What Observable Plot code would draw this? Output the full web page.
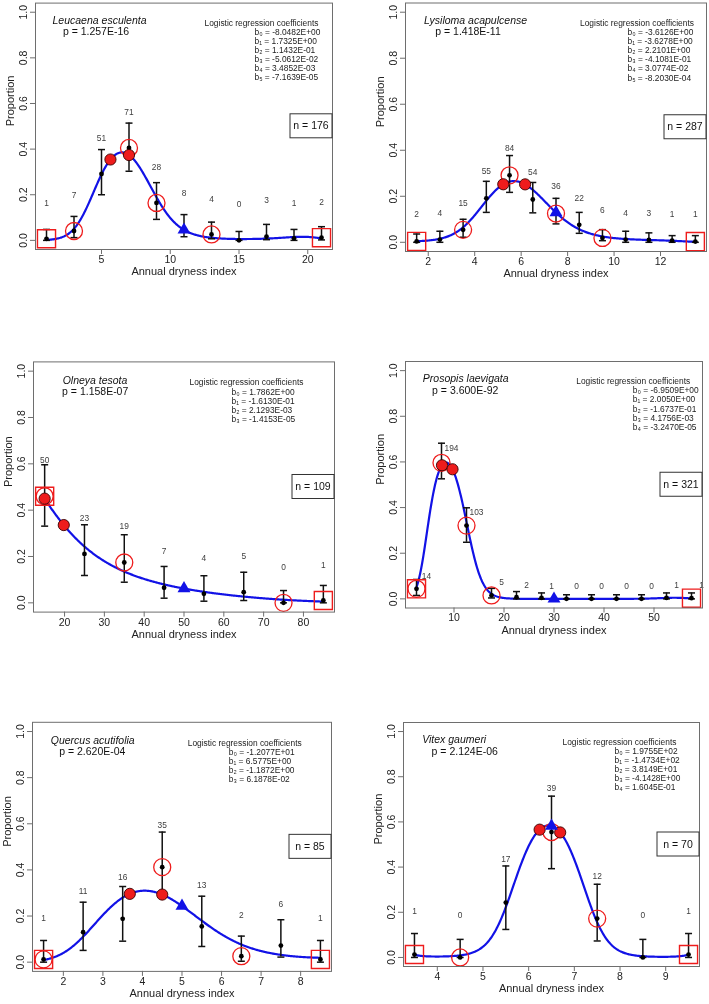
<!DOCTYPE html>
<html>
<head>
<meta charset="utf-8">
<script src="https://cdn.jsdelivr.net/npm/d3@7"></script>
<script src="https://cdn.jsdelivr.net/npm/@observablehq/plot@0.6"></script>
<style>
  body { margin: 0; background: #fff; }
  #page { position: relative; width: 709px; height: 1004px; overflow: hidden; background: #fff;
          font-family: "Liberation Sans", Arial, sans-serif; }
  #page svg { position: absolute; will-change: transform; }
</style>
</head>
<body>
<div id="page"></div>
<script>
// ---------- Leucaena esculenta ----------
const leucaenaX      = [1, 3, 5, 7, 9, 11, 13, 15, 17, 19, 21];
const leucaenaProp   = [0.007, 0.041, 0.291, 0.405, 0.164, 0.051, 0.026, 0.0, 0.016, 0.009, 0.012];
const leucaenaLow    = [0.0, 0.012, 0.20, 0.303, 0.092, 0.016, 0.007, 0.0, 0.003, 0.0, 0.002];
const leucaenaHigh   = [0.048, 0.105, 0.398, 0.514, 0.253, 0.113, 0.080, 0.039, 0.070, 0.048, 0.060];
const leucaenaCount  = [1, 7, 51, 71, 28, 8, 4, 0, 3, 1, 2];
const leucaenaCoef   = [-8.0482E+00, 1.7325E+00, 1.1432E-01, -5.0612E-02, 3.4852E-03, -7.1639E-05];
const leucaenaOptimum = [5.65, 7.0];
const leucaenaCircled = [3, 7, 9, 13];
const leucaenaBoxed   = [1, 21];
const leucaenaMarker  = 11;

// ---------- Lysiloma acapulcense ----------
const lysilomaX      = [1.5, 2.5, 3.5, 4.5, 5.5, 6.5, 7.5, 8.5, 9.5, 10.5, 11.5, 12.5, 13.5];
const lysilomaProp   = [0.004, 0.012, 0.054, 0.191, 0.291, 0.186, 0.125, 0.076, 0.019, 0.012, 0.010, 0.007, 0.003];
const lysilomaLow    = [0.0, 0.0, 0.022, 0.13, 0.217, 0.128, 0.08, 0.039, 0.007, 0.0, 0.0, 0.0, 0.0];
const lysilomaHigh   = [0.036, 0.048, 0.10, 0.265, 0.377, 0.26, 0.191, 0.13, 0.055, 0.048, 0.041, 0.029, 0.029];
const lysilomaCount  = [2, 4, 15, 55, 84, 54, 36, 22, 6, 4, 3, 1, 1];
const lysilomaCoef   = [-3.6126E+00, -3.6278E+00, 2.2101E+00, -4.1081E-01, 3.0774E-02, -8.2030E-04];
const lysilomaOptimum = [5.23, 6.17];
const lysilomaCircled = [3.5, 5.5, 7.5, 9.5];
const lysilomaBoxed   = [1.5, 13.5];
const lysilomaMarker  = 7.5;

// ---------- Olneya tesota ----------
const olneyaX      = [15, 25, 35, 45, 55, 65, 75, 85];
const olneyaProp   = [0.46, 0.211, 0.174, 0.065, 0.039, 0.046, 0.0, 0.010];
const olneyaLow    = [0.331, 0.118, 0.089, 0.02, 0.007, 0.01, 0.0, 0.0];
const olneyaHigh   = [0.596, 0.337, 0.294, 0.157, 0.117, 0.132, 0.053, 0.075];
const olneyaCount  = [50, 23, 19, 7, 4, 5, 0, 1];
const olneyaCoef   = [1.7862E+00, -1.6130E-01, 2.1293E-03, -1.4153E-05];
const olneyaOptimum = [15, 19.8];
const olneyaCircled = [15, 35, 75];
const olneyaBoxed   = [15, 85];
const olneyaMarker  = 50;

// ---------- Prosopis laevigata ----------
const prosopisX      = [2.5, 7.5, 12.5, 17.5, 22.5, 27.5, 32.5, 37.5, 42.5, 47.5, 52.5, 57.5];
const prosopisProp   = [0.044, 0.596, 0.321, 0.015, 0.007, 0.004, 0.0, 0.0, 0.0, 0.0, 0.004, 0.003];
const prosopisLow    = [0.015, 0.526, 0.248, 0.004, 0.0, 0.0, 0.0, 0.0, 0.0, 0.0, 0.0, 0.0];
const prosopisHigh   = [0.085, 0.682, 0.399, 0.046, 0.032, 0.026, 0.018, 0.018, 0.018, 0.018, 0.026, 0.026];
const prosopisCount  = [14, 194, 103, 5, 2, 1, 0, 0, 0, 0, 1, 1];
const prosopisCoef   = [-6.9509E+00, 2.0050E+00, -1.6737E-01, 4.1756E-03, -3.2470E-05];
const prosopisOptimum = [7.6, 9.7];
const prosopisCircled = [2.5, 7.5, 12.5, 17.5];
const prosopisBoxed   = [2.5, 57.5];
const prosopisMarker  = 30;

// ---------- Quercus acutifolia ----------
const quercusX      = [1.5, 2.5, 3.5, 4.5, 5.5, 6.5, 7.5, 8.5];
const quercusProp   = [0.012, 0.13, 0.188, 0.412, 0.155, 0.026, 0.072, 0.012];
const quercusLow    = [0.0, 0.051, 0.091, 0.29, 0.068, 0.004, 0.022, 0.0];
const quercusHigh   = [0.094, 0.26, 0.328, 0.564, 0.286, 0.113, 0.184, 0.094];
const quercusCount  = [1, 11, 16, 35, 13, 2, 6, 1];
const quercusCoef   = [-1.2077E+01, 6.5775E+00, -1.1872E+00, 6.1878E-02];
const quercusOptimum = [3.68, 4.5];
const quercusCircled = [1.5, 4.5, 6.5];
const quercusBoxed   = [1.5, 8.5];
const quercusMarker  = 5;

// ---------- Vitex gaumeri ----------
const vitexX      = [3.5, 4.5, 5.5, 6.5, 7.5, 8.5, 9.5];
const vitexProp   = [0.013, 0.0, 0.243, 0.555, 0.172, 0.0, 0.013];
const vitexLow    = [0.0, 0.0, 0.124, 0.393, 0.073, 0.0, 0.0];
const vitexHigh   = [0.106, 0.08, 0.405, 0.714, 0.324, 0.08, 0.106];
const vitexCount  = [1, 0, 17, 39, 12, 0, 1];
const vitexCoef   = [1.9755E+02, -1.4734E+02, 3.8149E+01, -4.1428E+00, 1.6045E-01];
const vitexOptimum = [6.24, 6.69];
const vitexCircled = [4.5, 6.5, 7.5];
const vitexBoxed   = [3.5, 9.5];
const vitexMarker  = 6.5;

const speciesNames = ["Leucaena esculenta", "Lysiloma acapulcense", "Olneya tesota",
                      "Prosopis laevigata", "Quercus acutifolia", "Vitex gaumeri"];
const pValues  = [1.257E-16, 1.418E-11, 1.158E-07, 3.600E-92, 2.620E-04, 2.124E-06];
const nTotals  = [176, 287, 109, 321, 85, 70];
const xTickSets = [[5, 10, 15, 20], [2, 4, 6, 8, 10, 12], [20, 30, 40, 50, 60, 70, 80],
                   [10, 20, 30, 40, 50], [2, 3, 4, 5, 6, 7, 8], [4, 5, 6, 7, 8, 9]];
const yTicks = [0, 0.2, 0.4, 0.6, 0.8, 1.0];

const species = [
  {x: leucaenaX, prop: leucaenaProp, low: leucaenaLow, high: leucaenaHigh, count: leucaenaCount, coef: leucaenaCoef,
   optimum: leucaenaOptimum, circled: leucaenaCircled, boxed: leucaenaBoxed, marker: leucaenaMarker},
  {x: lysilomaX, prop: lysilomaProp, low: lysilomaLow, high: lysilomaHigh, count: lysilomaCount, coef: lysilomaCoef,
   optimum: lysilomaOptimum, circled: lysilomaCircled, boxed: lysilomaBoxed, marker: lysilomaMarker},
  {x: olneyaX, prop: olneyaProp, low: olneyaLow, high: olneyaHigh, count: olneyaCount, coef: olneyaCoef,
   optimum: olneyaOptimum, circled: olneyaCircled, boxed: olneyaBoxed, marker: olneyaMarker},
  {x: prosopisX, prop: prosopisProp, low: prosopisLow, high: prosopisHigh, count: prosopisCount, coef: prosopisCoef,
   optimum: prosopisOptimum, circled: prosopisCircled, boxed: prosopisBoxed, marker: prosopisMarker},
  {x: quercusX, prop: quercusProp, low: quercusLow, high: quercusHigh, count: quercusCount, coef: quercusCoef,
   optimum: quercusOptimum, circled: quercusCircled, boxed: quercusBoxed, marker: quercusMarker},
  {x: vitexX, prop: vitexProp, low: vitexLow, high: vitexHigh, count: vitexCount, coef: vitexCoef,
   optimum: vitexOptimum, circled: vitexCircled, boxed: vitexBoxed, marker: vitexMarker}
];

// Page layout of each panel: plot frame in page pixels, text offsets from the frame's top-left corner,
// and the height (in proportion units) at which each bin's count is written.
const layouts = [
  {col: 0, frame: {left: 35, right: 332, top: 2.6, bottom: 249},
   species: [64, 13.1], pval: [60.5, 24.4], header: [226, 16.7], coefs: [219, 25.1], countDx: 0,
   countY: [0.162, 0.197, 0.447, 0.561, 0.32, 0.206, 0.18, 0.158, 0.175, 0.162, 0.167]},
  {col: 1, frame: {left: 405, right: 706, top: 2.5, bottom: 251},
   species: [70, 13.5], pval: [62.5, 24.2], header: [231.5, 16.8], coefs: [222, 25.6], countDx: 0,
   countY: [0.123, 0.128, 0.17, 0.309, 0.41, 0.303, 0.243, 0.193, 0.138, 0.128, 0.128, 0.12, 0.12]},
  {col: 0, frame: {left: 33, right: 334, top: 361.4, bottom: 611.6},
   species: [61.5, 14.3], pval: [61.7, 25.3], header: [213, 17.6], coefs: [198, 26.7], countDx: 0,
   countY: [0.614, 0.365, 0.331, 0.221, 0.193, 0.201, 0.154, 0.164]},
  {col: 1, frame: {left: 405, right: 702, top: 361, bottom: 607.5},
   species: [60.2, 13.3], pval: [59.7, 25], header: [227.7, 16.7], coefs: [227.3, 25.4], countDx: 10,
   countY: [0.099, 0.66, 0.379, 0.073, 0.061, 0.057, 0.054, 0.054, 0.054, 0.054, 0.058, 0.061]},
  {col: 0, frame: {left: 32, right: 331, top: 721.8, bottom: 970.9},
   species: [60.2, 14.2], pval: [59.8, 25.5], header: [212.2, 18.2], coefs: [196.3, 26], countDx: 0,
   countY: [0.192, 0.308, 0.368, 0.593, 0.335, 0.202, 0.253, 0.192]},
  {col: 1, frame: {left: 403, right: 699, top: 722, bottom: 966},
   species: [50.7, 13], pval: [61.2, 24.7], header: [216, 17], coefs: [211, 25.1], countDx: 0,
   countY: [0.205, 0.187, 0.433, 0.747, 0.359, 0.187, 0.205]}
];

const FONT = '"Liberation Sans", Arial, sans-serif';
const AXIS = "#6e6e6e";
const INK = "#222";
const BLUE = "#1212e6";
const RED = "#ee1c1c";
const SUB = "₀₁₂₃₄₅₆₇₈₉";

// R-style scientific notation: 1.2345E-02
function sci(v, digits) {
  const [m, e] = v.toExponential(digits).split("e");
  const sign = e[0] === "-" ? "-" : "+";
  return `${m}E${sign}${e.replace(/^[+-]/, "").padStart(2, "0")}`;
}

// Polynomial logistic model: p = 1 / (1 + exp(-(b0 + b1 x + b2 x^2 + ...)))
function logistic(coef, x) {
  let s = 0;
  for (let k = coef.length - 1; k >= 0; --k) s = s * x + coef[k];
  return 1 / (1 + Math.exp(-s));
}

// Horizontal cap used at both ends of each error bar
const capSymbol = {draw(ctx, size) { const w = Math.sqrt(size / Math.PI); ctx.moveTo(-w, 0); ctx.lineTo(w, 0); }};

// Boxed sample-size legend at the right edge of the frame
function sampleBox(label, w, h) {
  return (index, scales, values, dim) => {
    const x1 = dim.width - dim.marginRight;
    const yc = (dim.marginTop + dim.height - dim.marginBottom) / 2;
    const g = d3.create("svg:g");
    g.append("rect").attr("x", x1 - w).attr("y", yc - h / 2).attr("width", w).attr("height", h)
      .attr("fill", "#fff").attr("stroke", "#333").attr("stroke-width", 1);
    g.append("text").attr("x", x1 - w / 2).attr("y", yc).attr("dy", "0.35em")
      .attr("text-anchor", "middle").attr("font-size", 10.5).attr("fill", "#111").text(label);
    return g.node();
  };
}

const page = document.getElementById("page");

species.forEach((sp, i) => {
  const lay = layouts[i];
  const f = lay.frame;
  const colLeft = lay.col === 0 ? 0 : 354;
  const width = lay.col === 0 ? 354 : 355;
  const svgTop = Math.floor(f.top) - 2;
  const marginTop = f.top - svgTop;
  const marginBottom = 44;
  const height = marginTop + (f.bottom - f.top) + marginBottom;

  const [x0, x1] = d3.extent(sp.x);
  const pad = 0.04 * (x1 - x0);

  const rows = sp.x.map((x, j) => ({x, p: sp.prop[j], lo: sp.low[j], hi: sp.high[j], n: sp.count[j], ly: lay.countY[j]}));
  const fit = d3.range(401).map(j => { const x = x0 + (x1 - x0) * j / 400; return {x, p: logistic(sp.coef, x)}; });
  const opt = sp.optimum.map(x => ({x, p: logistic(sp.coef, x)}));
  const tri = [{x: sp.marker, p: logistic(sp.coef, sp.marker)}];
  const circled = rows.filter(d => sp.circled.includes(d.x));
  const boxed = rows.filter(d => sp.boxed.includes(d.x));
  const coefBlock = sp.coef.map((c, k) => `b${SUB[k]} = ${sci(c, 4)}`).join("\n");

  const chart = Plot.plot({
    width, height,
    marginLeft: f.left - colLeft, marginRight: colLeft + width - f.right,
    marginTop, marginBottom,
    x: {domain: [x0 - pad, x1 + pad]},
    y: {domain: [-0.04, 1.04]},
    style: {fontFamily: FONT, fontSize: "10.5px", color: INK, background: "transparent", overflow: "visible"},
    marks: [
      Plot.axisX({ticks: xTickSets[i], tickFormat: d => String(d), tickSize: 5, tickPadding: 1,
        stroke: AXIS, fill: INK, fontSize: 10.5, label: null}),
      Plot.axisY({ticks: yTicks, tickFormat: d3.format(".1f"), tickRotate: -90, tickSize: 5,
        stroke: AXIS, fill: INK, fontSize: 10.5, label: null}),
      Plot.line(fit, {x: "x", y: "p", stroke: BLUE, strokeWidth: 2.2}),
      Plot.ruleX(rows, {x: "x", y1: "lo", y2: "hi", stroke: "#111", strokeWidth: 1.5}),
      Plot.dot(rows, {x: "x", y: "hi", symbol: capSymbol, r: 3.5, fill: "none", stroke: "#111", strokeWidth: 1.5}),
      Plot.dot(rows, {x: "x", y: "lo", symbol: capSymbol, r: 3.5, fill: "none", stroke: "#111", strokeWidth: 1.5}),
      Plot.dot(rows, {x: "x", y: "p", r: 2.4, fill: "#000"}),
      Plot.dot(circled, {x: "x", y: "p", r: 8.5, fill: "none", stroke: RED, strokeWidth: 1.3}),
      Plot.dot(boxed, {x: "x", y: "p", symbol: "square", r: 10.2, fill: "none", stroke: RED, strokeWidth: 1.4}),
      Plot.dot(opt, {x: "x", y: "p", r: 5.6, fill: RED, stroke: "#3a0000", strokeWidth: 0.9}),
      Plot.dot(tri, {x: "x", y: "p", symbol: "triangle", r: 4.8, fill: BLUE}),
      Plot.text(rows, {x: "x", y: "ly", text: d => String(d.n), fontSize: 8.4, fill: "#404040", dx: lay.countDx}),
      Plot.frame({stroke: AXIS}),
      Plot.text([speciesNames[i]], {frameAnchor: "top-left", dx: lay.species[0], dy: lay.species[1],
        textAnchor: "middle", fontStyle: "italic", fontSize: 10.5, fill: "#111"}),
      Plot.text([`p = ${sci(pValues[i], 3)}`], {frameAnchor: "top-left", dx: lay.pval[0], dy: lay.pval[1],
        textAnchor: "middle", fontSize: 10.5, fill: "#111"}),
      Plot.text(["Logistic regression coefficients"], {frameAnchor: "top-left", dx: lay.header[0], dy: lay.header[1],
        textAnchor: "middle", fontSize: 8.4, fill: INK}),
      Plot.text([coefBlock], {frameAnchor: "top-left", dx: lay.coefs[0], dy: lay.coefs[1],
        textAnchor: "start", lineAnchor: "top", lineHeight: 1.083, fontSize: 8.4, fill: INK}),
      sampleBox(`n = ${nTotals[i]}`, 42, 24),
      Plot.text(["Proportion"], {frameAnchor: "left", rotate: -90, dx: -25, fontSize: 11, fill: INK}),
      Plot.text(["Annual dryness index"], {frameAnchor: "bottom", dy: 25.5, fontSize: 11, fill: INK})
    ]
  });
  chart.style.left = colLeft + "px";
  chart.style.top = svgTop + "px";
  page.appendChild(chart);
});
</script>
</body>
</html>
